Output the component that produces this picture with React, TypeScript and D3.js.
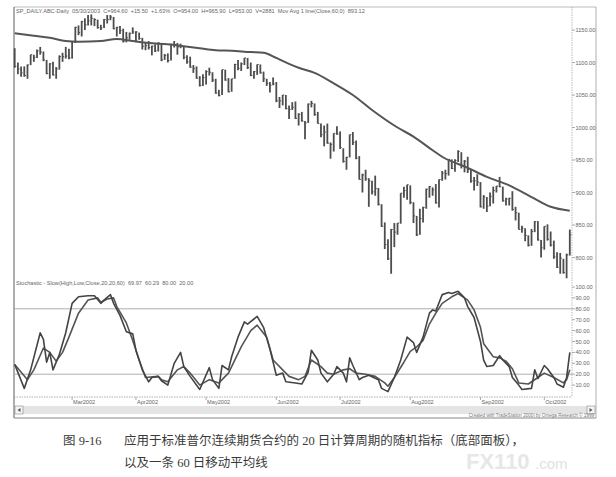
import React from 'react';
import * as d3 from 'd3';

// daily bars, 2002-02-04 .. 2002-10-11 (index = trading day)
const priceHigh = [
  1122, 1100, 1094, 1094, 1097, 1112, 1112, 1120, 1124, 1117, 1104, 1099, 1101, 1093, 1111, 1115, 1124, 1121,
  1132, 1155, 1157, 1164, 1168, 1173, 1174, 1168, 1166, 1158, 1167, 1173, 1173, 1170, 1155, 1156, 1152, 1147, 1146, 1154,
  1148, 1146, 1138, 1130, 1133, 1126, 1128, 1131, 1130, 1113, 1114, 1129, 1133, 1130, 1129, 1125, 1111, 1109, 1096, 1094, 1079, 1082,
  1088, 1092, 1085, 1075, 1058, 1089, 1089, 1076, 1075, 1098, 1104, 1100, 1107, 1107, 1100, 1087, 1097, 1097, 1086, 1075, 1070, 1077,
  1070, 1047, 1050, 1050, 1034, 1039, 1040, 1022, 1024, 1010, 1037, 1041, 1037, 1024, 1006, 1003, 1006, 977, 991, 1002,
  994, 968, 955, 989, 993, 980, 956, 929, 935, 922, 918, 926, 907, 882, 854, 828, 844, 853, 853, 899, 909, 912,
  911, 885, 864, 875, 878, 906, 910, 908, 913, 920, 933, 935, 951, 951, 951, 965, 962, 950, 955, 935, 924, 928,
  916, 896, 893, 900, 909, 910, 924, 909, 892, 892, 902, 878, 869, 849, 845, 834, 844, 856, 856, 827,
  848, 851, 840, 826, 808, 807, 798, 806, 843,
];
const priceLow = [
  1092, 1082, 1078, 1078, 1075, 1096, 1101, 1107, 1112, 1102, 1082, 1075, 1080, 1075, 1089, 1101, 1106, 1105,
  1106, 1130, 1142, 1140, 1150, 1157, 1157, 1156, 1152, 1150, 1153, 1160, 1165, 1151, 1140, 1144, 1131, 1131, 1135, 1144,
  1131, 1135, 1120, 1119, 1120, 1111, 1116, 1117, 1102, 1104, 1100, 1103, 1123, 1112, 1122, 1105, 1098, 1092, 1084, 1075, 1063, 1064,
  1066, 1080, 1070, 1052, 1048, 1050, 1072, 1054, 1055, 1075, 1088, 1087, 1096, 1090, 1079, 1075, 1081, 1083, 1070, 1064, 1054, 1065,
  1039, 1030, 1034, 1028, 1013, 1027, 1013, 1003, 1009, 982, 1007, 1031, 1018, 1006, 985, 971, 975, 952, 963, 989,
  967, 946, 935, 954, 973, 951, 920, 900, 918, 878, 897, 895, 880, 847, 813, 796, 775, 816, 835, 852, 892, 889,
  882, 853, 833, 835, 854, 875, 892, 895, 883, 877, 918, 920, 926, 936, 932, 947, 937, 931, 930, 915, 903, 910,
  877, 875, 870, 879, 883, 900, 908, 886, 880, 880, 872, 857, 843, 838, 825, 817, 818, 839, 826, 800,
  812, 826, 817, 798, 784, 775, 775, 768, 803,
];
const priceClose = [
  1094, 1090, 1084, 1080, 1096, 1112, 1108, 1118, 1116, 1104, 1083, 1098, 1081, 1090, 1109, 1109, 1110, 1107,
  1132, 1154, 1146, 1163, 1158, 1164, 1168, 1166, 1154, 1153, 1166, 1166, 1170, 1152, 1154, 1149, 1132, 1138, 1145, 1147,
  1147, 1137, 1125, 1126, 1123, 1125, 1118, 1130, 1104, 1111, 1103, 1128, 1126, 1124, 1125, 1108, 1101, 1093, 1091, 1076, 1065, 1077,
  1086, 1085, 1073, 1053, 1049, 1089, 1073, 1055, 1075, 1097, 1091, 1098, 1107, 1092, 1080, 1086, 1097, 1084, 1075, 1068, 1065, 1067,
  1041, 1041, 1050, 1029, 1028, 1031, 1014, 1020, 1010, 1007, 1036, 1037, 1020, 1006, 989, 993, 976, 974, 991, 990,
  969, 948, 954, 989, 977, 953, 920, 927, 921, 918, 901, 906, 882, 848, 820, 798, 843, 839, 853, 899, 903, 912,
  885, 864, 835, 860, 877, 905, 909, 904, 884, 920, 930, 929, 951, 937, 949, 963, 941, 948, 935, 918, 918, 916,
  878, 893, 879, 894, 903, 910, 909, 887, 890, 891, 874, 869, 843, 845, 834, 819, 840, 855, 827, 815,
  848, 828, 819, 801, 785, 799, 777, 804, 835,
];

// 60-day moving average: [bar index, value]
const maPoints: [number, number][] = [
  [0, 1145], [6, 1141], [11, 1138], [16, 1133], [20, 1132], [27, 1133], [32, 1136], [37, 1133],
  [42, 1130], [48, 1128], [53, 1125], [58, 1122], [63, 1119], [68, 1118], [74, 1116], [78, 1115],
  [82, 1107], [86, 1098], [89, 1092], [94, 1084], [100, 1068], [106, 1050], [112, 1027], [120, 1000],
  [125, 986], [131, 965], [134, 955], [142, 938], [148, 924], [155, 911], [162, 893], [168, 878], [174, 872],
];

// slow stochastic lines: [bar index, value]
const stochK: [number, number][] = [
  [0, 29], [3, 7], [5, 24], [8, 58], [9, 52], [10, 31], [11, 40], [12, 24], [14, 38], [16, 58], [18, 85],
  [20, 91], [23, 92], [25, 92], [27, 85], [28, 88], [30, 93], [31, 85], [33, 74], [35, 59], [37, 57],
  [38, 42], [40, 24], [42, 13], [43, 17], [45, 18], [46, 14], [48, 10], [50, 30], [52, 40], [53, 27],
  [55, 18], [58, 6], [61, 26], [62, 15], [64, 7], [65, 28], [67, 24], [68, 36], [70, 54], [72, 68],
  [73, 66], [76, 73], [78, 63], [80, 43], [82, 19], [84, 21], [85, 13], [88, 12], [90, 11], [92, 22],
  [93, 42], [95, 33], [96, 21], [98, 13], [100, 20], [101, 27], [103, 21], [104, 13], [105, 35], [106, 28],
  [108, 15], [109, 17], [111, 19], [114, 15], [115, 7], [117, 4], [119, 17], [121, 33], [123, 54], [125, 49],
  [126, 40], [128, 54], [130, 76], [131, 79], [132, 78], [134, 93], [136, 95], [137, 94], [139, 96], [141, 90],
  [142, 82], [144, 72], [146, 50], [147, 33], [148, 27], [150, 28], [152, 37], [153, 33], [155, 27], [156, 17],
  [158, 10], [159, 6], [162, 7], [163, 24], [164, 16], [166, 28], [167, 25], [169, 17], [170, 11], [172, 8],
  [173, 17], [174, 40],
];
const stochD: [number, number][] = [
  [0, 29], [4, 15], [6, 24], [9, 44], [11, 40], [13, 32], [15, 40], [17, 54], [20, 76], [23, 88], [26, 90],
  [27, 86], [29, 89], [31, 90], [32, 82], [35, 67], [37, 51], [39, 33], [41, 17], [45, 18], [46, 15], [48, 13],
  [51, 24], [53, 27], [55, 21], [58, 10], [61, 15], [64, 12], [67, 21], [68, 27], [71, 45], [74, 60], [76, 65],
  [79, 54], [81, 33], [84, 24], [86, 18], [89, 15], [91, 18], [93, 33], [96, 27], [98, 21], [100, 20], [103, 24],
  [105, 25], [107, 21], [110, 20], [113, 18], [116, 12], [117, 9], [119, 17], [122, 31], [124, 41], [126, 45],
  [128, 51], [130, 66], [132, 76], [134, 85], [137, 91], [139, 94], [142, 88], [144, 79], [146, 63], [147, 48],
  [150, 36], [152, 35], [154, 32], [156, 25], [158, 12], [161, 11], [164, 17], [166, 21], [169, 17], [172, 12],
  [173, 15], [174, 24],
];

const monthLabels = ['Mar2002', 'Apr2002', 'May2002', 'Jun2002', 'Jul2002', 'Aug2002', 'Sep2002', 'Oct2002'];
const monthStart = [18, 38, 60, 82, 102, 124, 146, 166];
const priceTicks = [1150, 1100, 1050, 1000, 950, 900, 850, 800];
const stochTicks = [100, 90, 80, 70, 60, 50, 40, 30, 20, 10];
const stochLevels = [80, 20];

const headerText = 'SP_DAILY.ABC-Daily  05/30/2003  C=964.60  +15.50  +1.63%  O=954.00  H=965.90  L=953.00  V=2881  Mov Avg 1 line(Close,60,0)  893.12';
const stochText = 'Stochastic - Slow(High,Low,Close,20,20,60)  69.97  60.29  80.00  20.00';
const captionNo = '图 9-16';
const captionLine1 = '应用于标准普尔连续期货合约的 20 日计算周期的随机指标（底部面板），';
const captionLine2 = '以及一条 60 日移动平均线';

export default function App() {
  const left = 14;
  const axisX = 572;
  const right = 596;
  const top = 7;
  const bottom = 418;

  const x = d3.scaleLinear().domain([0, priceHigh.length - 1]).range([14.7, 569.8]);
  const yP = d3.scaleLinear().domain([800, 1150]).range([257.5, 30]);
  const yS = d3.scaleLinear().domain([0, 100]).range([396, 287]);

  const maLine = d3.line<[number, number]>().x(d => x(d[0])).y(d => yP(d[1])).curve(d3.curveMonotoneX);
  const sLine = d3.line<[number, number]>().x(d => x(d[0])).y(d => yS(d[1]));

  const ink = '#4d4d4d';
  const small = { fontFamily: 'Liberation Sans, Arial, sans-serif', fontSize: 5.6, fill: '#666' };

  return (
    <svg width={616} height={477} style={{ position: 'absolute', left: 0, top: 0, background: '#fff' }}>
      <rect x={0} y={0} width={616} height={477} fill="#fff" />

      {/* frame */}
      <line x1={left} x2={right} y1={top} y2={top} stroke="#aaa" strokeWidth={0.8} />
      <line x1={left} x2={left} y1={top} y2={bottom} stroke="#777" strokeWidth={1.2} />
      <line x1={right} x2={right} y1={top} y2={bottom} stroke="#999" strokeWidth={0.8} />
      <line x1={left} x2={right} y1={bottom} y2={bottom} stroke="#888" strokeWidth={1.2} />
      <line x1={axisX} x2={axisX} y1={top} y2={397} stroke="#aaa" strokeWidth={0.8} strokeDasharray="1.5,1" />

      {/* header */}
      <text x={16} y={12.5} xmlSpace="preserve" {...small}>{headerText}</text>

      {/* price axis */}
      {priceTicks.map(t => (
        <g key={t}>
          <line x1={axisX} x2={axisX + 3} y1={yP(t)} y2={yP(t)} stroke="#999" strokeWidth={0.8} />
          <text x={axisX + 3.5} y={yP(t) + 2} {...small}>{t.toFixed(2)}</text>
        </g>
      ))}

      {/* price bars */}
      {priceHigh.map((h, i) => (
        <g key={i}>
          <line x1={x(i)} x2={x(i)} y1={yP(h)} y2={yP(priceLow[i])} stroke={ink} strokeWidth={1.8} />
          <line x1={x(i)} x2={x(i) + 1.6} y1={yP(priceClose[i])} y2={yP(priceClose[i])} stroke={ink} strokeWidth={1} />
        </g>
      ))}

      {/* 60-day MA */}
      <path d={maLine(maPoints) || ''} fill="none" stroke="#555" strokeWidth={2} />

      {/* stochastic panel */}
      <text x={16} y={285} xmlSpace="preserve" {...small}>{stochText}</text>
      {stochLevels.map(l => (
        <line key={l} x1={left} x2={axisX} y1={yS(l)} y2={yS(l)} stroke="#999" strokeWidth={0.8} />
      ))}
      {stochTicks.map(t => (
        <g key={t}>
          <line x1={axisX} x2={axisX + 3} y1={yS(t)} y2={yS(t)} stroke="#999" strokeWidth={0.8} />
          <text x={axisX + 3.5} y={yS(t) + 2} {...small}>{t.toFixed(2)}</text>
        </g>
      ))}
      <path d={sLine(stochD) || ''} fill="none" stroke="#555" strokeWidth={1.6} strokeLinejoin="round" />
      <path d={sLine(stochK) || ''} fill="none" stroke="#444" strokeWidth={1.6} strokeLinejoin="round" />

      {/* date axis */}
      <line x1={left} x2={axisX} y1={397} y2={397} stroke="#999" strokeWidth={0.8} strokeDasharray="1.5,1" />
      {monthStart.map((m, k) => (
        <g key={m}>
          <line x1={x(m)} x2={x(m)} y1={397} y2={400} stroke="#999" strokeWidth={0.8} />
          <text x={x(m) + 1} y={404} {...small}>{monthLabels[k]}</text>
        </g>
      ))}

      {/* scroll bar */}
      <rect x={left + 1} y={406} width={right - left - 2} height={8} fill="#e4e4e4" />
      <rect x={left + 1} y={406} width={8} height={8} fill="#f4f4f4" stroke="#888" strokeWidth={0.6} />
      <path d={`M${left + 3.5},410 L${left + 6.5},408 L${left + 6.5},412 Z`} fill="#555" />
      <rect x={right - 9} y={406} width={8} height={8} fill="#f4f4f4" stroke="#888" strokeWidth={0.6} />
      <path d={`M${right - 3.5},410 L${right - 6.5},408 L${right - 6.5},412 Z`} fill="#555" />
      <text x={right - 2} y={417} textAnchor="end" style={{ fontFamily: 'Liberation Sans, Arial, sans-serif', fontSize: 4.6, fill: '#777' }}>
        Created with TradeStation 2000i by Omega Research © 1999
      </text>

      {/* caption */}
      <g style={{ fontFamily: "'Liberation Serif', 'Noto Sans CJK SC', serif", fontSize: 12.5, fill: '#3a3a3a' }}>
        <text x={63} y={445}>{captionNo}</text>
        <text x={124} y={445}>{captionLine1}</text>
        <text x={124} y={467}>{captionLine2}</text>
      </g>

      {/* watermark */}
      <g style={{ fontFamily: 'Liberation Sans, Arial, sans-serif', fontWeight: 700 }} opacity={0.55}>
        <text x={466} y={469} style={{ fontSize: 22, fill: '#d4d4d4' }}>FX110</text>
        <text x={535} y={469} style={{ fontSize: 15, fill: '#c8c8c8', fontWeight: 400 }}>.com</text>
      </g>
    </svg>
  );
}
